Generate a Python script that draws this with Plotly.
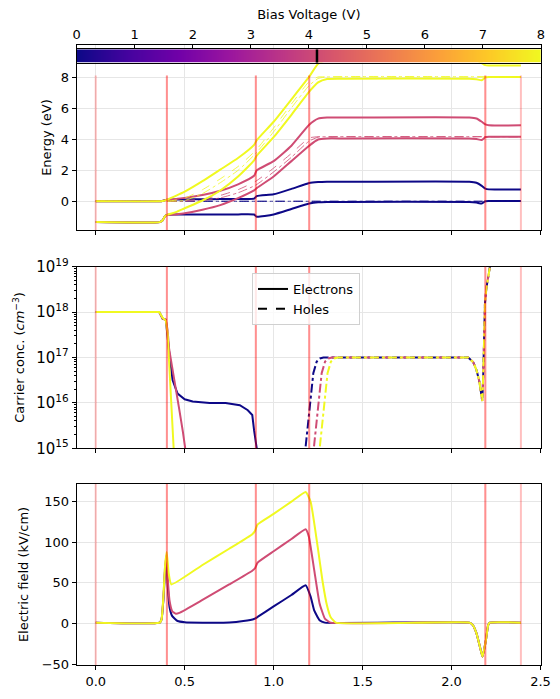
import plotly.graph_objects as go
from plotly.colors import sample_colorscale

# bias voltages shown (V) and the one marked on the colour bar
bias = [0.0, 4.14, 8.0]
bias_mark = 4.14
cbar_ends = [0.0, 8.0]

# layer boundaries (um)
layers = [(0.0, 0.4), (0.4, 0.9), (0.9, 1.2), (1.2, 2.19), (2.19, 2.39)]

# ---- band diagram (eV) ----
x_band = [0.0, 0.36, 0.375, 0.39, 0.40, 0.45, 0.50, 0.60, 0.70, 0.80, 0.89, 0.905,
          1.00, 1.10, 1.20, 1.25, 1.30, 1.40, 2.10, 2.14, 2.17, 2.19, 2.21, 2.39]
Ec = [
    [0.0, 0.0, 0.02, 0.08, 0.10, 0.12, 0.12, 0.13, 0.14, 0.15, 0.17, 0.33,
     0.45, 0.80, 1.18, 1.24, 1.26, 1.26, 1.26, 1.20, 1.00, 0.82, 0.77, 0.77],
    [0.0, 0.0, 0.02, 0.06, 0.08, 0.15, 0.22, 0.40, 0.68, 1.10, 1.65, 2.00,
     2.60, 3.60, 4.95, 5.35, 5.42, 5.42, 5.42, 5.36, 5.15, 4.98, 4.92, 4.92],
    [0.0, 0.0, 0.02, 0.06, 0.10, 0.35, 0.62, 1.30, 2.05, 2.80, 3.65, 3.95,
     5.15, 6.60, 8.07, 8.90, 9.15, 9.20, 9.20, 9.15, 8.95, 8.82, 8.80, 8.80],
]
Ev = [
    [-1.35, -1.35, -1.25, -0.95, -0.88, -0.86, -0.85, -0.85, -0.85, -0.85, -0.86, -1.00,
     -0.85, -0.50, -0.15, -0.06, -0.04, -0.04, -0.04, -0.08, -0.15, 0.00, 0.02, 0.02],
    [-1.35, -1.35, -1.25, -0.95, -0.90, -0.85, -0.78, -0.55, -0.25, 0.20, 0.70, 0.85,
     1.60, 2.60, 3.60, 4.00, 4.07, 4.07, 4.07, 4.03, 3.97, 4.15, 4.18, 4.18],
    [-1.35, -1.35, -1.25, -0.95, -0.88, -0.70, -0.45, 0.05, 0.70, 1.60, 2.65, 2.95,
     4.15, 5.60, 7.10, 7.70, 7.92, 7.94, 7.94, 7.90, 7.84, 8.02, 8.05, 8.05],
]
x_qf = [0.0, 0.40, 0.50, 0.60, 0.70, 0.80, 0.90, 1.00, 1.10, 1.20, 1.25, 1.30, 2.39]
Efn = [
    [0, 0, 0, 0, 0, 0, 0, 0, 0, 0, 0, 0, 0],
    [0, 0, 0.05, 0.15, 0.38, 0.75, 1.30, 2.15, 3.10, 4.10, 4.18, 4.18, 4.18],
    [0, 0, 0.20, 0.75, 1.45, 2.25, 3.30, 4.75, 6.30, 7.75, 8.05, 8.05, 8.05],
]
Efp = [
    [0, 0, 0, 0, 0, 0, 0, 0, 0, 0, 0, 0, 0],
    [0, 0, 0.0, 0.05, 0.22, 0.55, 1.05, 1.90, 2.85, 3.90, 4.15, 4.18, 4.18],
    [0, 0, 0.05, 0.50, 1.20, 2.00, 3.10, 4.50, 6.05, 7.50, 7.95, 8.05, 8.05],
]

# ---- carrier concentrations (cm^-3) ----
x_n = [
    [0.0, 0.357, 0.376, 0.394, 0.413, 0.432, 0.46, 0.50, 0.545, 0.64, 0.73, 0.81, 0.855, 0.88, 0.89, 0.905],
    [0.0, 0.357, 0.376, 0.394, 0.404, 0.413, 0.43, 0.45, 0.47, 0.49, 0.503],
    [0.0, 0.357, 0.376, 0.394, 0.404, 0.417, 0.428, 0.438],
]
n_conc = [
    [1e18, 1e18, 7.2e17, 6.8e17, 1.3e17, 3.2e16, 1.6e16, 1.2e16, 1.07e16, 1.0e16, 1.0e16, 8.9e15, 6.9e15, 5.4e15, 2.5e15, 1e15],
    [1e18, 1e18, 7.2e17, 6.8e17, 4e17, 1.5e17, 6e16, 2.2e16, 7e15, 2.3e15, 1e15],
    [1e18, 1e18, 7.5e17, 6.5e17, 3.4e17, 2.7e16, 3.5e15, 1e15],
]
x_p = [
    [1.18, 1.194, 1.208, 1.223, 1.242, 1.26, 1.28],
    [1.227, 1.241, 1.255, 1.27, 1.289, 1.307, 1.327],
    [1.26, 1.274, 1.288, 1.303, 1.322, 1.34, 1.36],
]
p_conc = [1.1e15, 3.5e15, 1.4e16, 4.5e16, 8.1e16, 9.5e16, 1e17]
x_p_right = [2.094, 2.122, 2.141, 2.156, 2.165, 2.173, 2.178, 2.182, 2.188, 2.197, 2.216]
p_right = [1e17, 7.9e16, 5.2e16, 3e16, 1.6e16, 1.1e16, 3.8e16, 2.9e17, 1.55e18, 3.6e18, 1e19]
conc_ticks = [1e15, 1e16, 1e17, 1e18, 1e19]
conc_ticktext = ['10<sup>15</sup>', '10<sup>16</sup>', '10<sup>17</sup>', '10<sup>18</sup>', '10<sup>19</sup>']

# ---- electric field (kV/cm) ----
x_field = [
    [0.0, 0.36, 0.37, 0.38, 0.39, 0.397, 0.405, 0.415, 0.43, 0.46, 0.50, 0.60, 0.75, 0.83,
     0.89, 0.91, 1.0, 1.1, 1.18, 1.208, 1.228, 1.258, 1.288],
    [0.0, 0.36, 0.37, 0.38, 0.39, 0.398, 0.405, 0.415, 0.43, 0.45, 0.47, 0.60, 0.75, 0.88,
     0.895, 0.91, 1.0, 1.1, 1.18, 1.198, 1.228, 1.258, 1.288, 1.32],
    [0.0, 0.36, 0.37, 0.38, 0.39, 0.399, 0.41, 0.425, 0.60, 0.75, 0.88, 0.895, 0.91, 1.0,
     1.1, 1.18, 1.208, 1.248, 1.275, 1.30, 1.32, 1.35],
]
field = [
    [1, 1, 5, 28, 66, 78, 45, 20, 9, 3, 1.5, 1, 1.2, 3, 5.5, 8, 21, 35, 47, 33, 16, 4, 1],
    [1, 1, 5, 30, 70, 84, 55, 28, 15, 12, 13, 29, 48, 65, 68, 75, 89, 104, 116, 107, 66, 25, 6, 1],
    [1, 1, 5, 32, 72, 88, 62, 48, 72, 92, 110, 114, 122, 135, 150, 162, 150, 94, 52, 22, 8, 1],
]
x_dip = [2.10, 2.12, 2.14, 2.16, 2.174, 2.193, 2.206, 2.215, 2.39]
field_dip = [1, -2, -12, -29, -41, -21, -2, 1, 1]

# ---- layout in pixels ----
W, H = 560, 699
xdom = [76.7 / W, 541 / W]
ydom = {
    'y': [1 - 230.3 / H, 1 - 44.7 / H],
    'y2': [1 - 448.3 / H, 1 - 266.7 / H],
    'y3': [1 - 665 / H, 1 - 484 / H],
    'y4': [1 - 62.7 / H, 1 - 49.3 / H],
}
font = dict(family='DejaVu Sans', size=13, color='black')
colors = [sample_colorscale('Plasma', b / 8.0)[0] for b in bias]

fig = go.Figure()

for i, c in enumerate(colors):
    # panel 1
    fig.add_trace(go.Scatter(x=x_band, y=Ec[i], mode='lines', line=dict(color=c, width=2, shape='spline', smoothing=0.5),
                             showlegend=False, xaxis='x', yaxis='y'))
    fig.add_trace(go.Scatter(x=x_band, y=Ev[i], mode='lines', line=dict(color=c, width=2, shape='spline', smoothing=0.5),
                             showlegend=False, xaxis='x', yaxis='y'))
    fig.add_trace(go.Scatter(x=x_qf, y=Efn[i], mode='lines', line=dict(color=c, width=0.8, dash='dash', shape='spline', smoothing=0.5),
                             showlegend=False, xaxis='x', yaxis='y'))
    fig.add_trace(go.Scatter(x=x_qf, y=Efp[i], mode='lines', line=dict(color=c, width=0.8, dash='dashdot', shape='spline', smoothing=0.5),
                             showlegend=False, xaxis='x', yaxis='y'))
    # panel 2
    fig.add_trace(go.Scatter(x=x_n[i], y=n_conc[i], mode='lines', line=dict(color=c, width=2),
                             showlegend=False, xaxis='x2', yaxis='y2'))
    fig.add_trace(go.Scatter(x=x_p[i] + x_p_right, y=p_conc + p_right, mode='lines',
                             line=dict(color=c, width=2, dash='dashdot'),
                             showlegend=False, xaxis='x2', yaxis='y2'))
    # panel 3
    fig.add_trace(go.Scatter(x=x_field[i] + x_dip, y=field[i] + field_dip, mode='lines',
                             line=dict(color=c, width=2, shape='spline', smoothing=0.4),
                             showlegend=False, xaxis='x3', yaxis='y3'))

# legend entries
fig.add_trace(go.Scatter(x=[None], y=[None], mode='lines', line=dict(color='black', width=2),
                         name='Electrons', xaxis='x2', yaxis='y2'))
fig.add_trace(go.Scatter(x=[None], y=[None], mode='lines', line=dict(color='black', width=2, dash='dash'),
                         name='Holes', xaxis='x2', yaxis='y2'))

# colour bar strip
fig.add_trace(go.Heatmap(x=cbar_ends, y=[0, 1], z=[cbar_ends, cbar_ends], zsmooth='best',
                         colorscale='Plasma', zmin=0, zmax=8, showscale=False,
                         hoverinfo='skip', xaxis='x4', yaxis='y4'))
fig.add_trace(go.Scatter(x=[bias_mark, bias_mark], y=[0, 1], mode='lines',
                         line=dict(color='black', width=2.5), showlegend=False,
                         xaxis='x4', yaxis='y4'))

# layer boundaries
shapes = []
for x0, x1 in layers:
    for xb in (x0, x1):
        shapes.append(dict(type='line', xref='x', yref='y', x0=xb, x1=xb, y0=-1.88, y1=8.15,
                           line=dict(color='rgba(255,0,0,0.25)', width=2), layer='above'))
        for ax in ('2', '3'):
            shapes.append(dict(type='line', xref='x' + ax, yref='y' + ax + ' domain', x0=xb, x1=xb, y0=0, y1=1,
                               line=dict(color='rgba(255,0,0,0.25)', width=2), layer='above'))

axis_style = dict(showline=True, linecolor='black', linewidth=1, mirror=True, ticks='outside',
                  ticklen=4, tickcolor='black', showgrid=True, gridcolor='#e6e6e6', zeroline=False,
                  tickfont=font, automargin=False)
xrange = [-0.107, 2.503]
xticks = dict(tickmode='array', tickvals=[0, 0.5, 1.0, 1.5, 2.0, 2.5])

fig.update_layout(
    width=W, height=H,
    margin=dict(l=0, r=0, t=0, b=0),
    plot_bgcolor='white', paper_bgcolor='white',
    font=font,
    shapes=shapes,
    xaxis=dict(axis_style, domain=xdom, range=xrange, anchor='y', showticklabels=False, **xticks),
    xaxis2=dict(axis_style, domain=xdom, range=xrange, anchor='y2', showticklabels=False, **xticks),
    xaxis3=dict(axis_style, domain=xdom, range=xrange, anchor='y3', tickformat='.1f', **xticks),
    yaxis=dict(axis_style, domain=ydom['y'], range=[-1.88, 10.14], anchor='x',
               tickvals=[0, 2, 4, 6, 8], title=dict(text='Energy (eV)', font=font, standoff=6)),
    yaxis2=dict(axis_style, domain=ydom['y2'], type='log', range=[15, 19], anchor='x2',
                tickmode='array', tickvals=conc_ticks, ticktext=conc_ticktext,
                tickfont=dict(family='DejaVu Sans', size=15, color='black'),
                minor=dict(ticks='outside', ticklen=2, tickcolor='black', dtick='D1', showgrid=False),
                title=dict(text='Carrier conc. (<i>cm</i><sup>−3</sup>)', font=font, standoff=8)),
    yaxis3=dict(axis_style, domain=ydom['y3'], range=[-51.2, 171.8], anchor='x3',
                tickvals=[-50, 0, 50, 100, 150], title=dict(text='Electric field (kV/cm)', font=font, standoff=10)),
    xaxis4=dict(domain=xdom, range=cbar_ends, anchor='y4', side='top', showline=True, linecolor='black',
                linewidth=1, mirror=True, ticks='outside', ticklen=4, tickcolor='black', showgrid=False,
                zeroline=False, dtick=1, tickfont=font, automargin=False,
                title=dict(text='Bias Voltage (V)', font=font, standoff=4)),
    yaxis4=dict(domain=ydom['y4'], range=[0, 1], anchor='x4', showline=True, linecolor='black', linewidth=1,
                mirror=True, showticklabels=False, ticks='', showgrid=False, zeroline=False, automargin=False),
    legend=dict(x=252 / W, y=1 - 273 / H, xanchor='left', yanchor='top', bgcolor='rgba(255,255,255,0.8)',
                bordercolor='#d0d0d0', borderwidth=1, font=font, itemwidth=30),
)

# drop the browser's default page margin so the figure sits at the window corner
fig.write_html("out.html", config={'displayModeBar': False},
               post_script="document.body.style.margin = '0px';")
